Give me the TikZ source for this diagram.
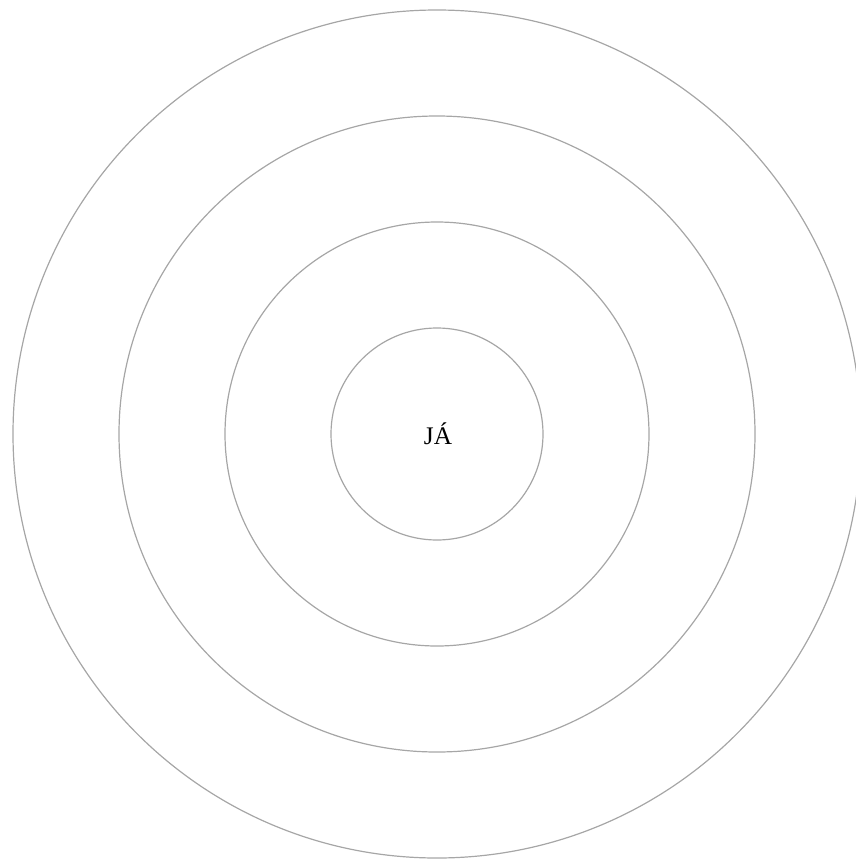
\documentclass[tikz,border=0pt]{standalone}
\usepackage{fontspec}
\setmainfont{Liberation Serif}
\usetikzlibrary{positioning}

\begin{document}
\begin{tikzpicture}[
    x=0.75pt, y=-0.75pt,
    ring/.style={draw=black!35, line width=0.9pt, circle, inner sep=0pt},
    label/.style={font=\fontsize{19}{22}\selectfont}
]
    \useasboundingbox (0,0) rectangle (856,860);
    % rings around the centre
    \foreach \r [count=\i] in {212,424,636,848}
        \node[ring, minimum size=\r*0.75pt] (ring\i) at (437,434) {};
    \node[label, anchor=base] (me) at (438,444) {JÁ};
\end{tikzpicture}
\end{document}
